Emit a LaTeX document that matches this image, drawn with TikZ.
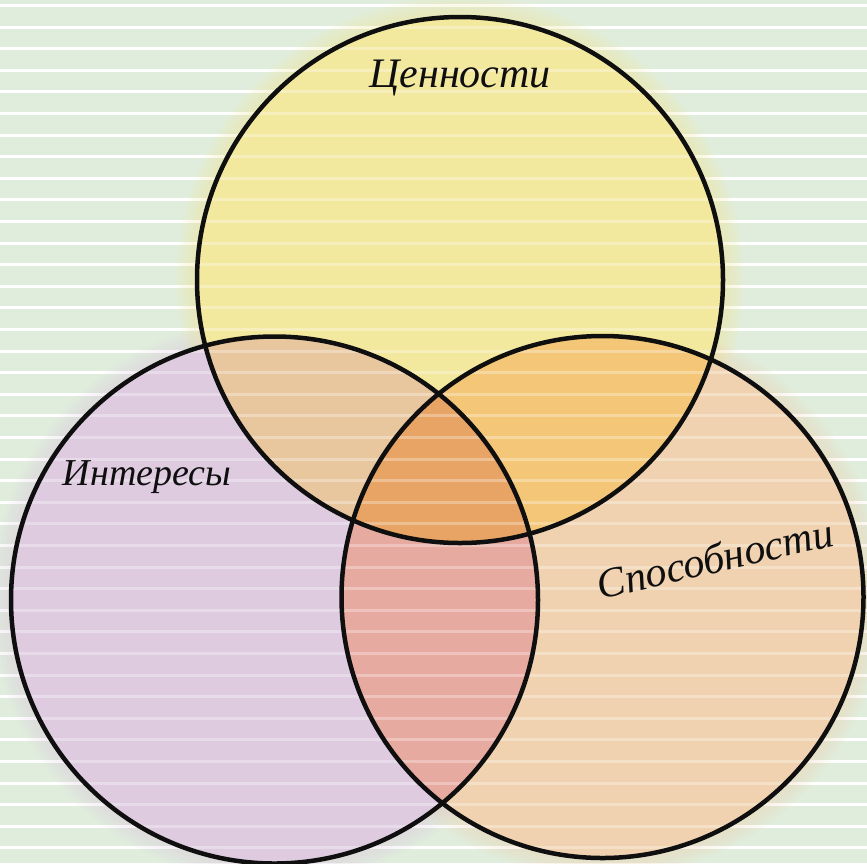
\documentclass[tikz,border=0pt]{standalone}
\usepackage{fontspec}
\newfontfamily\hand{Liberation Serif}
\definecolor{bg}{RGB}{224,237,220}
\definecolor{ycol}{RGB}{243,233,158}
\definecolor{pcol}{RGB}{222,203,224}
\definecolor{ocol}{RGB}{240,210,176}
\definecolor{ypcol}{RGB}{232,198,158}
\definecolor{yocol}{RGB}{244,198,120}
\definecolor{pocol}{RGB}{230,170,160}
\definecolor{ccol}{RGB}{232,164,100}
\definecolor{ink}{RGB}{15,15,15}
\tikzset{
  outline/.style={line width=4.5pt, draw=ink},
  lbl/.style={font=\hand\itshape\fontsize{42}{48}\selectfont, text=ink, inner sep=0pt},
  stripe/.style={fill=white}
}
\begin{document}
\begin{tikzpicture}[x=1pt,y=-1pt]
\clip (0,0) rectangle (867,863);
\fill[bg] (0,0) rectangle (867,863);
\foreach \k in {0,...,39} \fill[stripe] (0,{4+21.6*\k}) rectangle (867,{7+21.6*\k});
\coordinate (Y) at (460,280);
\coordinate (P) at (274.5,600);
\coordinate (O) at (602.5,597);
% glow
\foreach \d in {4,8,12,16,20} {
  \fill[ycol, opacity=0.13] (Y) circle ({263+\d});
  \fill[pcol, opacity=0.10] (P) circle ({263.5+\d});
  \fill[ocol, opacity=0.10] (O) circle ({261+\d});
}
% base fills
\fill[ycol] (Y) circle (263);
\fill[pcol] (P) circle (263.5);
\fill[ocol] (O) circle (261);
\begin{scope}
  \clip (P) circle (263.5);
  \fill[pocol] (O) circle (261);
\end{scope}
\begin{scope}
  \clip (Y) circle (263);
  \fill[ypcol] (P) circle (263.5);
  \fill[yocol] (O) circle (261);
  \clip (P) circle (263.5);
  \fill[ccol] (O) circle (261);
\end{scope}
% faint stripes through the fills
\foreach \k in {0,...,39} \fill[stripe, opacity=0.3] (0,{4+21.6*\k}) rectangle (867,{7+21.6*\k});
% outlines
\draw[outline] (Y) circle (263);
\draw[outline] (P) circle (263.5);
\draw[outline] (O) circle (261);
% labels
\node[lbl] (tY) at (460,78) {Ценности};
\node[lbl, font=\hand\itshape\fontsize{38}{44}\selectfont] (tP) at (147,477) {Интересы};
\node[lbl, rotate=13] (tO) at (715,558) {Способности};
\end{tikzpicture}
\end{document}
